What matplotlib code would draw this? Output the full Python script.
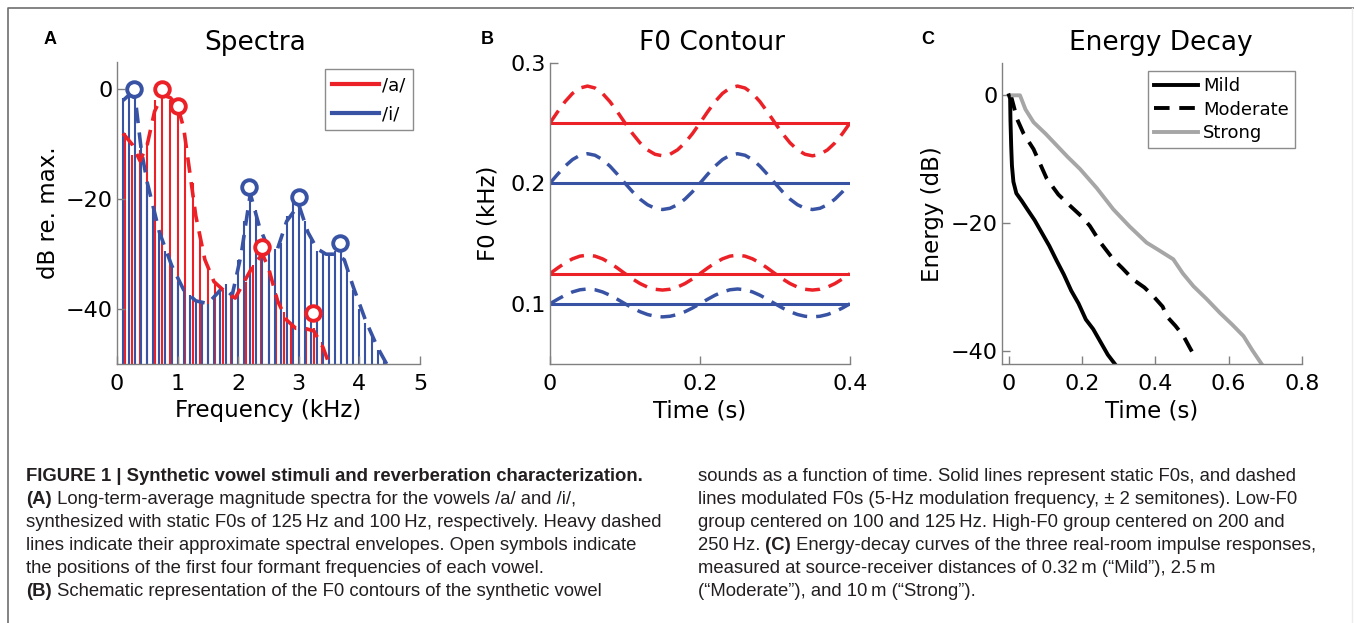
import numpy as np
import matplotlib
matplotlib.use('Agg')
from matplotlib import pyplot as plt
from matplotlib.lines import Line2D

plt.rcParams['font.family'] = ['DejaVu Sans']

RED = '#ec2127'
BLUE = '#3953a4'
GRAY = '#a6a6a6'
SPINE = '#808080'

# panel A: harmonic spectra (kHz, dB re. max.)
a_f0 = 0.125
a_stems = [-8, -12, -11, -10, -2, 0, -2, -3, -8, -17, -26, -32, -35, -36.5,
           -37.5, -37, -35, -32, -29.5, -32, -37, -40.5, -42.5, -43.5, -43.5,
           -43.5, -46, -49.5]
i_f0 = 0.1
i_stems = [-1.5, -1, 0, -10, -17, -22, -26, -29.5, -32.5, -35, -36.5, -37.5,
           -38.5, -39, -39, -38, -36.5, -35.5, -37, -31, -24, -18, -22, -27.5,
           -29, -29, -28, -23, -20.5, -20, -24, -27.5, -29.5, -30, -30, -29.5,
           -28.5, -32, -36.5, -40, -42.5, -45, -47.5, -49.5]
a_env_f = [0.1, 0.25, 0.38, 0.5, 0.62, 0.75, 0.88, 1.0, 1.1, 1.2, 1.3, 1.45,
           1.6, 1.8, 1.95, 2.1, 2.25, 2.4, 2.5, 2.65, 2.8, 2.95, 3.1, 3.25, 3.4, 3.5]
a_env_db = [-8, -10, -13, -10, -4, -1, -1.5, -3, -7, -15, -23, -31, -35, -37,
            -38, -35, -32, -30, -32.5, -38.5, -42, -43.5, -43.5, -44, -47, -50]
i_env_f = [0.1, 0.2, 0.3, 0.4, 0.5, 0.7, 0.9, 1.1, 1.3, 1.5, 1.75, 1.9, 2.05,
           2.2, 2.35, 2.5, 2.65, 2.8, 3.0, 3.15, 3.3, 3.45, 3.6, 3.75, 3.9, 4.1,
           4.3, 4.45]
i_env_db = [-2, -1, -1.5, -11, -17, -26, -32, -36.5, -38.5, -39, -36, -37.5,
            -30, -19, -25, -29, -29, -24, -21, -26, -29, -30, -30, -31, -36, -42,
            -47, -50]
a_formant_f = [0.75, 1.01, 2.39, 3.24]
a_formant_db = [0, -3, -28.7, -40.8]
i_formant_f = [0.28, 2.17, 3.0, 3.68]
i_formant_db = [0, -17.8, -19.5, -28]

# panel B: F0 contours (static centres in kHz, +-2 semitone 5-Hz modulation)
f0_a = [0.25, 0.125]
f0_i = [0.2, 0.1]
one_period = [0, 0.62, 1.18, 1.62, 1.9, 2.0, 1.9, 1.62, 1.18, 0.62, 0,
              -0.62, -1.18, -1.62, -1.9, -2.0, -1.9, -1.62, -1.18, -0.62]
mod_semitones = one_period + one_period + [0]
mod_time = [k * 0.01 for k in range(len(mod_semitones))]

# panel C: energy decay curves
mild_t = [0, 0.003, 0.004, 0.006, 0.008, 0.012, 0.02, 0.035, 0.05, 0.07, 0.09,
          0.11, 0.13, 0.15, 0.17, 0.19, 0.21, 0.23, 0.25, 0.27, 0.29]
mild_e = [0, -0.5, -4, -8, -11, -13.5, -15.3, -16.5, -17.8, -19.5, -21.5,
          -23.5, -25.8, -28, -30.5, -32.5, -35, -36.5, -38.5, -40.5, -42]
mod_t = [0.005, 0.012, 0.022, 0.04, 0.067, 0.103, 0.135, 0.166, 0.2, 0.221,
         0.25, 0.285, 0.31, 0.34, 0.37, 0.395, 0.42, 0.431, 0.455, 0.477, 0.495, 0.51]
mod_e = [0, -1.5, -3.7, -6, -8.4, -13, -15.5, -17.2, -19, -20.4, -23, -25.6,
         -27, -28.8, -30, -31.4, -33, -34.5, -36, -37.6, -39.5, -41]
strong_t = [0.01, 0.03, 0.045, 0.067, 0.1, 0.13, 0.16, 0.194, 0.24, 0.285,
            0.33, 0.376, 0.41, 0.449, 0.475, 0.504, 0.54, 0.577, 0.61, 0.641,
            0.665, 0.691]
strong_e = [0, 0, -2.2, -4.2, -6, -7.8, -9.6, -11.5, -14.5, -17.8, -20.5, -23,
            -24.2, -25.6, -27.8, -29.8, -31.8, -34, -35.8, -37.6, -39.8, -42]

W, H = 1354, 623
fig = plt.figure(figsize=(W / 100, H / 100), dpi=100)


def fx(x):
    return x / W


def fy(y):
    return 1 - y / H


def make_axes(left, top, right, bottom):
    ax = fig.add_axes([fx(left), fy(bottom), fx(right - left), (bottom - top) / H])
    for s in ['top', 'right']:
        ax.spines[s].set_visible(False)
    for s in ['left', 'bottom']:
        ax.spines[s].set_color(SPINE)
        ax.spines[s].set_linewidth(1)
    ax.tick_params(direction='in', length=6, width=1, color=SPINE, labelsize=16)
    ax.tick_params(axis='x', pad=7)
    ax.tick_params(axis='y', pad=3)
    return ax


dash = (0, (4.3, 2.6))

# ---- A: spectra
axA = make_axes(117, 62, 420, 364)
a_freqs = [a_f0 * (k + 1) for k in range(len(a_stems))]
i_freqs = [i_f0 * (k + 1) for k in range(len(i_stems))]
axA.vlines(a_freqs, -50, a_stems, color=RED, lw=1.5, zorder=1)
axA.vlines(i_freqs, -50, i_stems, color=BLUE, lw=1.5, zorder=1)
axA.plot(i_env_f, i_env_db, color=BLUE, lw=2.6, ls=dash, zorder=2)
axA.plot(a_env_f, a_env_db, color=RED, lw=2.6, ls=dash, zorder=2)
axA.plot(a_formant_f, a_formant_db, 'o', mfc='white', mec=RED, ms=10.5, mew=2.8,
         zorder=3, clip_on=False)
axA.plot(i_formant_f, i_formant_db, 'o', mfc='white', mec=BLUE, ms=10.5, mew=2.8,
         zorder=3, clip_on=False)
axA.set_xlim(0, 5)
axA.set_ylim(-50, 5)
axA.set_xticks([0, 1, 2, 3, 4, 5])
axA.set_yticks([-40, -20, 0])
axA.set_yticklabels(['\u221240', '\u221220', '0'])
axA.set_xlabel('Frequency (kHz)', fontsize=16.5, labelpad=4)
axA.set_ylabel('dB re. max.', fontsize=16.5, labelpad=4)
legA = axA.legend([Line2D([], [], color=RED, lw=3), Line2D([], [], color=BLUE, lw=3)],
                  ['/a/', '/i/'], loc='upper right', bbox_to_anchor=(0.977, 0.977),
                  borderaxespad=0, fontsize=13, handlelength=2.6, handletextpad=0.2,
                  labelspacing=0.6, borderpad=0.4, fancybox=False, framealpha=1)
legA.get_frame().set_edgecolor('#8c8c8c')
legA.get_frame().set_linewidth(1)

# ---- B: F0 contours
axB = make_axes(550, 62.7, 850, 364)
mod = np.array(mod_semitones)
for c in f0_a:
    axB.plot([0, 0.4], [c, c], color=RED, lw=2.2)
    axB.plot(mod_time, c * 2 ** (mod / 12), color=RED, lw=2.5, ls=dash)
for c in f0_i:
    axB.plot([0, 0.4], [c, c], color=BLUE, lw=2.2)
    axB.plot(mod_time, c * 2 ** (mod / 12), color=BLUE, lw=2.5, ls=dash)
axB.set_xlim(0, 0.4)
axB.set_ylim(0.05, 0.3)
axB.set_xticks([0, 0.2, 0.4])
axB.set_xticklabels(['0', '0.2', '0.4'])
axB.set_yticks([0.1, 0.2, 0.3])
axB.set_xlabel('Time (s)', fontsize=16.5, labelpad=4)
axB.set_ylabel('F0 (kHz)', fontsize=16.5, labelpad=8)

# ---- C: energy decay
axC = make_axes(1001.7, 63.3, 1301.7, 364.3)
axC.plot(mild_t, mild_e, color='black', lw=2.8, label='Mild')
axC.plot(mod_t, mod_e, color='black', lw=2.8, ls=(0, (4, 2.5)), label='Moderate')
axC.plot(strong_t, strong_e, color=GRAY, lw=2.8, label='Strong')
axC.set_xlim(-0.02, 0.8)
axC.set_ylim(-42, 5)
axC.set_xticks([0, 0.2, 0.4, 0.6, 0.8])
axC.set_xticklabels(['0', '0.2', '0.4', '0.6', '0.8'])
axC.set_yticks([-40, -20, 0])
axC.set_yticklabels(['\u221240', '\u221220', '0'])
axC.set_xlabel('Time (s)', fontsize=16.5, labelpad=4)
axC.set_ylabel('Energy (dB)', fontsize=16.5, labelpad=5)
legC = axC.legend(loc='upper right', bbox_to_anchor=(0.978, 0.975), borderaxespad=0,
                  fontsize=13, handlelength=2.4, handletextpad=0.3,
                  labelspacing=0.3, borderpad=0.35, fancybox=False, framealpha=1)
legC.get_frame().set_edgecolor('#8c8c8c')
legC.get_frame().set_linewidth(1)

# titles and panel letters
for x, s in [(255.5, 'Spectra'), (712, 'F0 Contour'), (1161, 'Energy Decay')]:
    fig.text(fx(x), fy(50), s, ha='center', va='baseline', fontsize=19)
for x, s in [(50, 'A'), (487, 'B'), (928, 'C')]:
    fig.text(fx(x), fy(40), s, ha='center', va='center', fontsize=13,
             fontweight='bold', family=['Liberation Sans', 'DejaVu Sans'])

# frame around the figure
fig.add_artist(Line2D([fx(8), fx(8), fx(W)], [0, fy(8), fy(8)],
                      transform=fig.transFigure, color='#6e6e6e', lw=1.2))
fig.add_artist(Line2D([fx(1352), fx(1352)], [0, fy(8)],
                      transform=fig.transFigure, color='#ececec', lw=1))

# caption
CAP = '#231f20'
cap_font = ['Liberation Sans', 'DejaVu Sans']
renderer = fig.canvas.get_renderer()


def rich_line(x, y, parts):
    xf = fx(x)
    for s, bold in parts:
        t = fig.text(xf, fy(y), s, fontsize=13.3, family=cap_font, color=CAP,
                     fontweight='bold' if bold else 'normal', va='baseline')
        xf = fig.transFigure.inverted().transform(
            (t.get_window_extent(renderer).x1, 0))[0]


left_lines = [
    [('FIGURE 1 | Synthetic vowel stimuli and reverberation characterization.', True)],
    [('(A)', True), (' Long-term-average magnitude spectra for the vowels /a/ and /i/,', False)],
    [('synthesized with static F0s of 125\u2009Hz and 100\u2009Hz, respectively. Heavy dashed', False)],
    [('lines indicate their approximate spectral envelopes. Open symbols indicate', False)],
    [('the positions of the first four formant frequencies of each vowel.', False)],
    [('(B)', True), (' Schematic representation of the F0 contours of the synthetic vowel', False)],
]
right_lines = [
    [('sounds as a function of time. Solid lines represent static F0s, and dashed', False)],
    [('lines modulated F0s (5-Hz modulation frequency, \u00b1 2 semitones). Low-F0', False)],
    [('group centered on 100 and 125\u2009Hz. High-F0 group centered on 200 and', False)],
    [('250\u2009Hz.', False), (' (C)', True),
     (' Energy-decay curves of the three real-room impulse responses,', False)],
    [('measured at source-receiver distances of 0.32\u2009m (\u201cMild\u201d), 2.5\u2009m', False)],
    [('(\u201cModerate\u201d), and 10\u2009m (\u201cStrong\u201d).', False)],
]
for k, parts in enumerate(left_lines):
    rich_line(26, 481 + 23 * k, parts)
for k, parts in enumerate(right_lines):
    rich_line(698, 481 + 23 * k, parts)

fig.savefig('out.png', dpi=100)
